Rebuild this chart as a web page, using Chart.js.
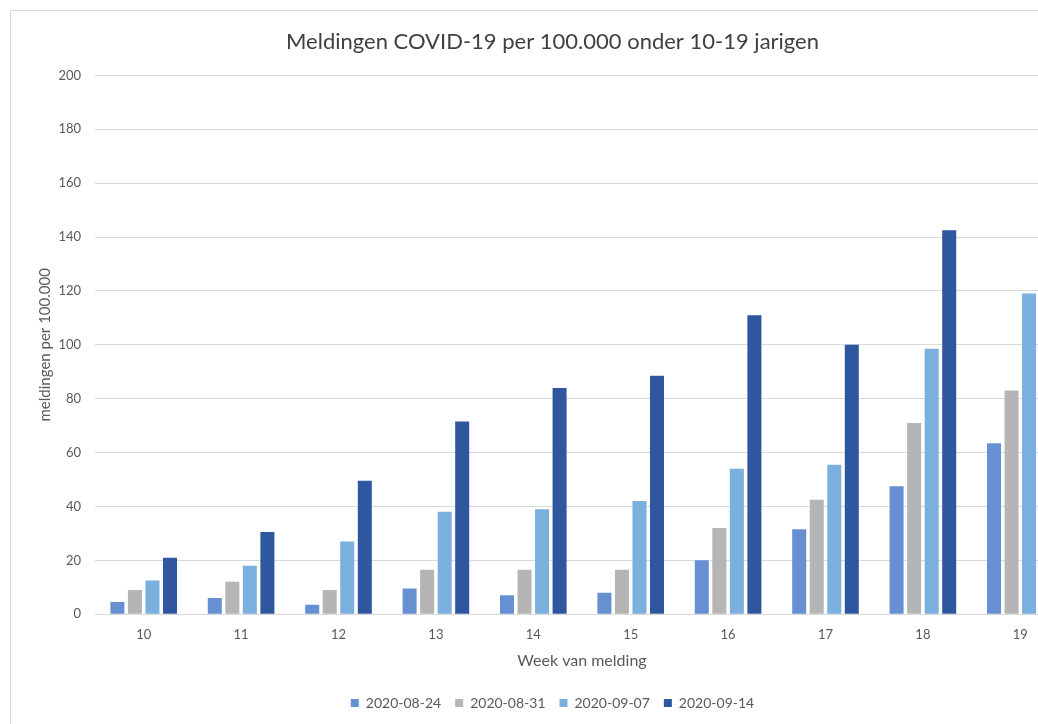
<!DOCTYPE html>
<html>
<head>
<meta charset="utf-8">
<script src="https://cdn.jsdelivr.net/npm/chart.js@4.4.1/dist/chart.umd.min.js"></script>
<style>
  html, body { margin: 0; padding: 0; background: #fff; overflow: hidden; }
  body { width: 1038px; height: 724px; position: relative; }
  #frame { position: absolute; left: 10px; top: 10px; width: 1080px; height: 720px; border: 1px solid #d9d9d9; box-sizing: border-box; }
  #wrap { position: absolute; left: 10px; top: 10px; width: 1080px; height: 714px; }
</style>
</head>
<body>
<div id="frame"></div>
<div id="wrap"><canvas id="chart"></canvas></div>
<script>
const weeks = ['10', '11', '12', '13', '14', '15', '16', '17', '18', '19'];
const seriesNames = ['2020-08-24', '2020-08-31', '2020-09-07', '2020-09-14'];
const s0824 = [4.5, 6, 3.5, 9.5, 7, 8, 20, 31.5, 47.5, 63.5];
const s0831 = [9, 12, 9, 16.5, 16.5, 16.5, 32, 42.5, 71, 83];
const s0907 = [12.5, 18, 27, 38, 39, 42, 54, 55.5, 98.5, 119];
const s0914 = [21, 30.5, 49.5, 71.5, 84, 88.5, 111, 100, 142.5, null]; // week 19 cut off in the picture
const yTicks = [0, 20, 40, 60, 80, 100, 120, 140, 160, 180, 200];

const colors = ['#6690d2', '#b5b5b5', '#7bafde', '#2f57a0'];
const FONT = 'Lato, "Open Sans", sans-serif';
const txt = '#595959';

const datasets = [s0824, s0831, s0907, s0914].map((d, i) => ({
    label: seriesNames[i],
    data: d,
    backgroundColor: colors[i],
    borderWidth: 0,
    categoryPercentage: 0.72,
    barPercentage: 0.8
}));

new Chart(document.getElementById('chart'), {
    type: 'bar',
    data: { labels: weeks, datasets },
    options: {
        responsive: true,
        maintainAspectRatio: false,
        animation: false,
        layout: { padding: { left: 26, right: 21, top: 8, bottom: 4 } },
        plugins: {
            title: {
                display: true,
                text: 'Meldingen COVID-19 per 100.000 onder 10-19 jarigen',
                color: '#404040',
                font: { family: FONT, size: 22, weight: 'normal' },
                padding: { top: 11, bottom: 20 }
            },
            legend: {
                position: 'bottom',
                labels: {
                    color: txt,
                    font: { family: FONT, size: 14 },
                    boxWidth: 8, boxHeight: 8,
                    padding: 14
                }
            },
            tooltip: { enabled: false }
        },
        scales: {
            x: {
                grid: { display: false },
                border: { display: true, color: '#d9d9d9' },
                ticks: { color: txt, font: { family: FONT, size: 13 }, padding: 5 },
                title: {
                    display: true, text: 'Week van melding', color: txt,
                    font: { family: FONT, size: 16 }, padding: { top: 3, bottom: 12 }
                }
            },
            y: {
                min: 0, max: 200,
                afterBuildTicks: axis => { axis.ticks = yTicks.map(v => ({ value: v })); },
                afterFit: axis => { axis.width = 59; },
                grid: { color: '#d9d9d9', drawTicks: false },
                border: { display: false },
                ticks: { color: txt, font: { family: FONT, size: 13 }, padding: 14 },
                title: {
                    display: true, text: 'meldingen per 100.000', color: txt,
                    font: { family: FONT, size: 15 }, padding: { top: 0, bottom: 0 }
                }
            }
        }
    }
});
</script>
</body>
</html>
